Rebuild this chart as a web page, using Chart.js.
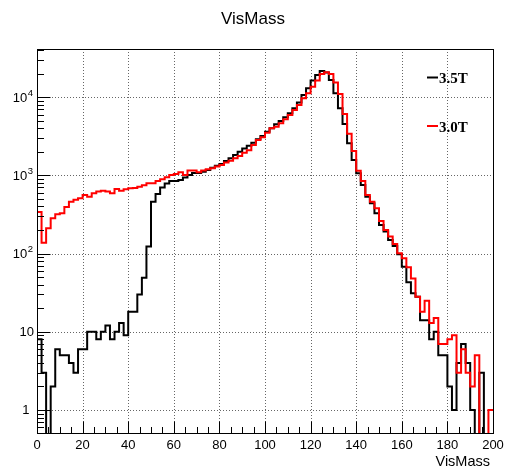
<!DOCTYPE html>
<html><head><meta charset="utf-8">
<script src="https://cdn.jsdelivr.net/npm/chart.js@4.4.1/dist/chart.umd.min.js"></script>
<style>html,body{margin:0;padding:0;background:#fff;}canvas{display:block;}</style>
</head><body>
<canvas id="c" width="506" height="469"></canvas>
<script>
// ---- data ----
const chartTitle = 'VisMass';
const xAxisTitle = 'VisMass';
const binStart = 0;
const binWidth = 2;
const seriesNames = ['3.5T', '3.0T'];
const series35 = [
  8, 3, 0, 2, 6, 5, 5, 4, 3, 6,
  6, 10, 10, 8, 10, 12, 8, 10, 13, 9,
  18, 18, 30, 49, 123, 461, 580, 700, 790, 845,
  850, 875, 940, 1010, 1070, 1075, 1115, 1170, 1255, 1330,
  1400, 1530, 1650, 1820, 2010, 2200, 2400, 2620, 2890, 3190,
  3620, 4000, 4500, 4960, 5530, 6220, 7210, 8520, 10670, 13000,
  16300, 19250, 21650, 20600, 16600, 11200, 7210, 4540, 2570, 1574,
  1064, 754, 534, 440, 327, 232, 191, 149, 125, 98,
  68, 43, 31, 28, 14, 14, 8, 10, 5, 5,
  2, 1, 4, 7, 4, 1, 0, 3, 0, 0
];
const series30 = [
  340, 138, 211, 283, 318, 327, 394, 461, 489, 510,
  561, 534, 590, 620, 638, 620, 590, 670, 638, 665,
  684, 690, 715, 750, 793, 793, 850, 892, 946, 1014,
  1043, 1096, 1014, 1152, 1152, 1096, 1152, 1197, 1233, 1295,
  1360, 1456, 1543, 1653, 1771, 1954, 2100, 2450, 2840, 3070,
  3520, 4000, 4200, 4630, 5210, 5920, 6860, 7950, 9670, 11200,
  13640, 16300, 19800, 20800, 19800, 15350, 11000, 6100, 3400, 2050,
  1150, 850, 561, 461, 380, 261, 200, 165, 133, 101,
  87, 67, 48, 28, 18, 25, 13, 15, 7, 7,
  8, 9, 3, 6, 3, 2, 5, 0, 0, 1
];
const xTickLabels = [0, 20, 40, 60, 80, 100, 120, 140, 160, 180, 200];
const xMinorStep = 5;
const yTickValues = [1, 10, 100, 1000, 10000];
const yTickBase = ['1', '10', '10', '10', '10'];
const yTickExp = ['', '', '2', '3', '4'];
const xRange = [0, 200];
const yRange = [0.508, 41300];

// ---- build histogram outline points (left edges + closing edge) ----
const FLOOR = 0.05; // empty bins drawn below the axis minimum (clipped), as ROOT does
function histPoints(vals) {
  const pts = vals.map((v, i) => ({ x: binStart + i * binWidth, y: v > 0 ? v : FLOOR }));
  const last = vals[vals.length - 1];
  pts.push({ x: binStart + vals.length * binWidth, y: last > 0 ? last : FLOOR });
  return pts;
}

const colors = ['#000000', '#ff0000'];

const rootPlugin = {
  id: 'rootStyle',
  beforeDatasetsDraw(chart) {
    const { ctx, chartArea: a, scales: { x, y } } = chart;
    ctx.save();
    ctx.strokeStyle = 'rgba(0,0,0,0.6)';
    ctx.lineWidth = 1;
    ctx.setLineDash([1, 2]);
    xTickLabels.forEach(v => {
      if (v === xRange[0] || v === xRange[1]) return;
      const px = Math.round(x.getPixelForValue(v)) + 0.5;
      ctx.beginPath(); ctx.moveTo(px, a.top); ctx.lineTo(px, a.bottom); ctx.stroke();
    });
    yTickValues.forEach(v => {
      const py = Math.round(y.getPixelForValue(v)) + 0.5;
      ctx.beginPath(); ctx.moveTo(a.left, py); ctx.lineTo(a.right, py); ctx.stroke();
    });
    ctx.restore();
  },
  afterDatasetsDraw(chart) {
    const { ctx, chartArea: a, scales: { x, y } } = chart;
    ctx.save();
    ctx.setLineDash([]);
    // frame
    ctx.strokeStyle = '#000';
    ctx.lineWidth = 1;
    ctx.strokeRect(Math.round(a.left) + 0.5, Math.round(a.top) + 0.5,
      Math.round(a.right) - Math.round(a.left), Math.round(a.bottom) - Math.round(a.top));
    // x ticks (inward)
    const xMajLen = 11.5, xMinLen = 6;
    ctx.beginPath();
    for (let v = xRange[0]; v <= xRange[1] + 1e-9; v += xMinorStep) {
      const px = Math.round(x.getPixelForValue(v)) + 0.5;
      const len = (xTickLabels.includes(v)) ? xMajLen : xMinLen;
      ctx.moveTo(px, a.bottom); ctx.lineTo(px, a.bottom - len);
    }
    ctx.stroke();
    // y ticks (log, inward)
    const yMajLen = 13.5, yMinLen = 7;
    ctx.beginPath();
    for (let e = -1; e <= 4; e++) {
      for (let m = 1; m <= 9; m++) {
        const v = m * Math.pow(10, e);
        if (v < y.min || v > y.max) continue;
        const py = Math.round(y.getPixelForValue(v)) + 0.5;
        const len = m === 1 ? yMajLen : yMinLen;
        ctx.moveTo(a.left, py); ctx.lineTo(a.left + len, py);
      }
    }
    ctx.stroke();
    // x labels
    ctx.fillStyle = '#000';
    ctx.font = '13px "Liberation Sans", Arial, sans-serif';
    ctx.textAlign = 'center';
    ctx.textBaseline = 'alphabetic';
    xTickLabels.forEach(v => {
      ctx.fillText(String(v), x.getPixelForValue(v), 448.5);
    });
    // x title
    ctx.font = '14.5px "Liberation Sans", Arial, sans-serif';
    ctx.textAlign = 'right';
    ctx.fillText(xAxisTitle, 490, 466);
    // y labels
    yTickValues.forEach((v, i) => {
      const py = y.getPixelForValue(v);
      const base = yTickBase[i], ex = yTickExp[i];
      ctx.textAlign = 'right';
      if (ex) {
        ctx.font = '9.5px "Liberation Sans", Arial, sans-serif';
        const ew = ctx.measureText(ex).width;
        const right = 33;
        ctx.fillText(ex, right, py - 1.5);
        ctx.font = '13px "Liberation Sans", Arial, sans-serif';
        ctx.fillText(base, right - ew - 0.5, py + 4.5);
      } else {
        ctx.font = '13px "Liberation Sans", Arial, sans-serif';
        ctx.fillText(base, base === '1' ? 29.5 : 34, py + 4.5);
      }
    });
    // title
    ctx.font = '17px "Liberation Sans", Arial, sans-serif';
    ctx.textAlign = 'center';
    ctx.fillText(chartTitle, 253, 24);
    // legend
    const legY = [77.5, 126];
    seriesNames.forEach((name, i) => {
      ctx.strokeStyle = colors[i];
      ctx.lineWidth = 2;
      ctx.beginPath(); ctx.moveTo(427, legY[i]); ctx.lineTo(438, legY[i]); ctx.stroke();
      ctx.fillStyle = '#000';
      ctx.font = 'bold 15px "Liberation Serif", "Times New Roman", serif';
      ctx.textAlign = 'left';
      ctx.fillText(name, 439, legY[i] + 5.5);
    });
    ctx.restore();
  }
};

new Chart(document.getElementById('c'), {
  type: 'line',
  data: {
    datasets: [
      { label: seriesNames[0], data: histPoints(series35), borderColor: colors[0], borderWidth: 2,
        pointRadius: 0, stepped: true, fill: false, clip: 0, order: 1 },
      { label: seriesNames[1], data: histPoints(series30), borderColor: colors[1], borderWidth: 2,
        pointRadius: 0, stepped: true, fill: false, clip: 0, order: 0 }
    ]
  },
  options: {
    responsive: false,
    animation: false,
    devicePixelRatio: 1,
    layout: { padding: { left: 37, right: 13, top: 49, bottom: 36 } },
    plugins: { legend: { display: false }, title: { display: false }, tooltip: { enabled: false } },
    scales: {
      x: { type: 'linear', min: xRange[0], max: xRange[1], display: false },
      y: { type: 'logarithmic', min: yRange[0], max: yRange[1], display: false }
    }
  },
  plugins: [rootPlugin]
});
</script>
</body></html>
